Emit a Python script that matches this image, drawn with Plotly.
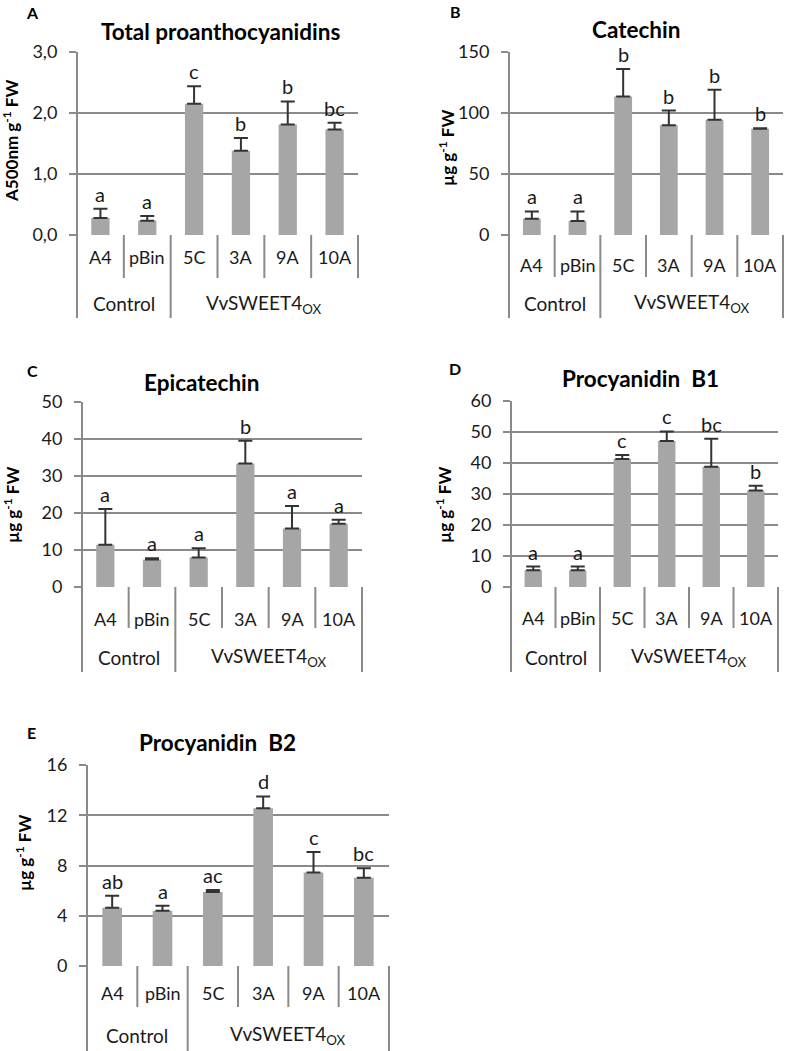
import plotly.graph_objects as go

W, H = 786, 1051

# ---------------- data ----------------
categories = ["A4", "pBin", "5C", "3A", "9A", "10A"]
groups = ["Control", "VvSWEET4<sub>OX</sub>"]
group_sizes = [2, 4]

titles = ["Total proanthocyanidins", "Catechin", "Epicatechin", "Procyanidin  B1", "Procyanidin  B2"]
panel_letters = ["A", "B", "C", "D", "E"]
y_titles = ["A500nm g<sup>-1</sup> FW", "µg g<sup>-1</sup> FW", "µg g<sup>-1</sup> FW",
            "µg g<sup>-1</sup> FW", "µg g<sup>-1</sup> FW"]

total_pa_mean = [0.28, 0.235, 2.15, 1.38, 1.81, 1.73]
total_pa_err = [0.15, 0.075, 0.29, 0.21, 0.38, 0.11]
total_pa_sig = ["a", "a", "c", "b", "b", "bc"]

catechin_mean = [13.3, 11.4, 113.5, 90.0, 94.5, 87.0]
catechin_err = [6.0, 7.9, 22.5, 12.0, 24.5, 0.6]
catechin_sig = ["a", "a", "b", "b", "b", "b"]

epicatechin_mean = [11.4, 7.4, 8.0, 33.4, 15.8, 17.1]
epicatechin_err = [9.7, 0.4, 2.5, 6.1, 6.1, 1.1]
epicatechin_sig = ["a", "a", "a", "b", "a", "a"]

b1_mean = [5.4, 5.4, 41.3, 47.1, 38.8, 31.1]
b1_err = [1.2, 1.2, 1.3, 3.1, 9.0, 1.6]
b1_sig = ["a", "a", "c", "c", "bc", "b"]

b2_mean = [4.63, 4.39, 5.9, 12.55, 7.45, 7.02]
b2_err = [0.96, 0.40, 0.14, 0.95, 1.62, 0.77]
b2_sig = ["ab", "a", "ac", "d", "c", "bc"]

y_tickvals = [[0, 1, 2, 3], [0, 50, 100, 150], [0, 10, 20, 30, 40, 50],
              [0, 10, 20, 30, 40, 50, 60], [0, 4, 8, 12, 16]]
y_ticktext = [["0,0", "1,0", "2,0", "3,0"], ["0", "50", "100", "150"],
              ["0", "10", "20", "30", "40", "50"],
              ["0", "10", "20", "30", "40", "50", "60"],
              ["0", "4", "8", "12", "16"]]

means = [total_pa_mean, catechin_mean, epicatechin_mean, b1_mean, b2_mean]
errs = [total_pa_err, catechin_err, epicatechin_err, b1_err, b2_err]
sigs = [total_pa_sig, catechin_sig, epicatechin_sig, b1_sig, b2_sig]

# ---------------- layout geometry (pixels) ----------------
geom = [
    dict(x0=77, x1=358, top=52, zero=235, cat=257, sep=278, grp=304, bot=318, right_full=False,
         tx=221, ty=32, lx=32, ly=13, yx=10, yy=141),
    dict(x0=509, x1=783, top=52, zero=235, cat=265, sep=277, grp=303, bot=318, right_full=True,
         tx=636, ty=30, lx=455, ly=12, yx=446, yy=148),
    dict(x0=82, x1=362, top=402, zero=587, cat=619, sep=628, grp=657, bot=672, right_full=True,
         tx=202, ty=383, lx=32, ly=370, yx=11, yy=505),
    dict(x0=511, x1=778, top=401, zero=587, cat=618, sep=628, grp=657, bot=672, right_full=True,
         tx=640, ty=378, lx=455, ly=369, yx=443, yy=505),
    dict(x0=87, x1=389, top=765, zero=966, cat=993, sep=1007, grp=1035, bot=1051, right_full=True,
         tx=217, ty=742, lx=31, ly=732, yx=23, yy=853),
]

FONT = "Lato"
TXT = "#1a1a1a"
GRID = "#8a8a8a"
BAR = "#a6a6a6"
ERR = "#333333"


def px(x):
    return x / W


def py(y):
    return 1 - y / H


fig = go.Figure()
shapes = []
annotations = []
layout = dict(width=W, height=H, margin=dict(l=0, r=0, t=0, b=0, pad=0, autoexpand=False),
              paper_bgcolor="white", plot_bgcolor="white", showlegend=False,
              template="none")

for i, g in enumerate(geom):
    n = i + 1
    xa = "x" if n == 1 else f"x{n}"
    ya = "y" if n == 1 else f"y{n}"
    xkey = "xaxis" if n == 1 else f"xaxis{n}"
    ykey = "yaxis" if n == 1 else f"yaxis{n}"
    vals = y_tickvals[i]
    layout[xkey] = dict(domain=[px(g["x0"]), px(g["x1"])], anchor=ya, type="category",
                        range=[-0.5, len(categories) - 0.5], showticklabels=False,
                        showgrid=False, zeroline=False, showline=False, ticks="",
                        automargin=False, fixedrange=True)
    layout[ykey] = dict(domain=[py(g["zero"]), py(g["top"])], anchor=xa,
                        range=[vals[0], vals[-1]], tickvals=vals, ticktext=y_ticktext[i],
                        showgrid=True, gridcolor=GRID, gridwidth=2, zeroline=False,
                        showline=False, ticks="outside", ticklen=7, tickwidth=2,
                        tickcolor=GRID, ticklabelstandoff=8, automargin=False,
                        fixedrange=True,
                        tickfont=dict(family=FONT, size=18, color=TXT))

    fig.add_trace(go.Bar(
        x=categories, y=means[i], width=0.39, marker=dict(color=BAR, line=dict(width=0)),
        error_y=dict(type="data", array=errs[i], arrayminus=[0] * len(categories),
                     symmetric=False, color=ERR, thickness=2, width=7),
        xaxis=xa, yaxis=ya, hoverinfo="skip"))

    # significance letters
    for c, m, e, s in zip(categories, means[i], errs[i], sigs[i]):
        annotations.append(dict(x=c, y=m + e, xref=xa, yref=ya, text=s, showarrow=False,
                                xanchor="center", yanchor="bottom", yshift=1,
                                font=dict(family=FONT, size=20, color=TXT)))
    # category labels
    for c in categories:
        annotations.append(dict(x=c, y=py(g["cat"]), xref=xa, yref="paper", text=c,
                                showarrow=False, xanchor="center", yanchor="middle",
                                font=dict(family=FONT, size=18, color=TXT)))
    # group labels
    start = 0
    for gname, gs in zip(groups, group_sizes):
        annotations.append(dict(x=start + gs / 2 - 0.5, y=py(g["grp"]), xref=xa, yref="paper",
                                text=gname, showarrow=False, xanchor="center",
                                yanchor="middle",
                                font=dict(family=FONT, size=19, color=TXT)))
        start += gs
    # title, panel letter, y title
    annotations.append(dict(x=px(g["tx"]), y=py(g["ty"]), xref="paper", yref="paper",
                            text=f"<b>{titles[i]}</b>", showarrow=False,
                            xanchor="center", yanchor="middle",
                            font=dict(family=FONT, size=22.5, color="#000")))
    annotations.append(dict(x=px(g["lx"]), y=py(g["ly"]), xref="paper", yref="paper",
                            text=f"<b>{panel_letters[i]}</b>", showarrow=False,
                            xanchor="center", yanchor="middle",
                            font=dict(family=FONT, size=16, color="#000")))
    annotations.append(dict(x=px(g["yx"]), y=py(g["yy"]), xref="paper", yref="paper",
                            text=f"<b>{y_titles[i]}</b>", showarrow=False, textangle=-90,
                            xanchor="center", yanchor="middle",
                            font=dict(family=FONT, size=17, color="#000")))

    # category axis dividers (Excel-style multi-level axis)
    ncat = len(categories)
    step = (g["x1"] - g["x0"]) / ncat
    group_edges = [0]
    for gs in group_sizes:
        group_edges.append(group_edges[-1] + gs)
    for k in range(ncat + 1):
        xx = px(g["x0"] + k * step)
        if k == 0:
            y_a, y_b = g["top"], g["bot"]
        elif k == ncat:
            y_a, y_b = g["zero"], g["bot"] if g["right_full"] else g["sep"]
        elif k in group_edges:
            y_a, y_b = g["zero"], g["bot"]
        else:
            y_a, y_b = g["zero"], g["sep"]
        shapes.append(dict(type="line", xref="paper", yref="paper", x0=xx, x1=xx,
                           y0=py(y_a), y1=py(y_b), line=dict(color=GRID, width=2)))

layout["shapes"] = shapes
layout["annotations"] = annotations
fig.update_layout(**layout)
fig.write_html("out.html", config={"displayModeBar": False, "staticPlot": True},
               post_script="document.body.style.margin='0';document.body.style.overflow='hidden';")
